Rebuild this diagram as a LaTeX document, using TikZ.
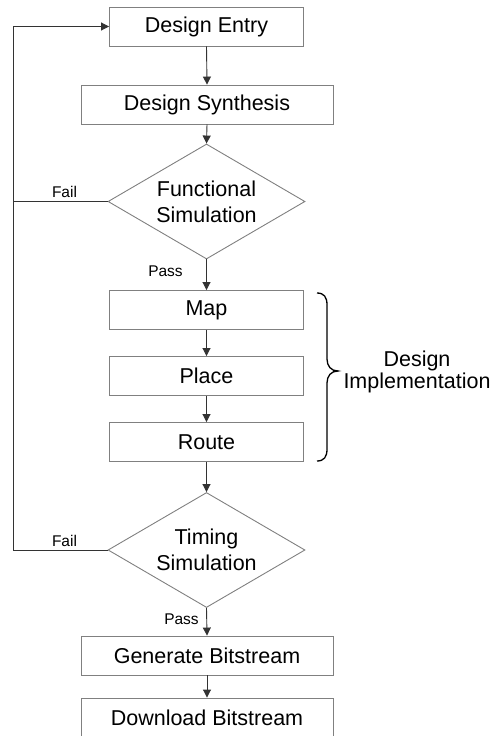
\documentclass[tikz,border=0pt]{standalone}
\usepackage{fontspec}
\setmainfont{Liberation Sans}
\usetikzlibrary{shapes.geometric,arrows.meta}
\begin{document}
\begin{tikzpicture}[x=1pt,y=-1pt,
  stepbox/.style={draw=black!50,line width=0.9pt,rectangle,minimum height=39pt,inner sep=0pt,
    font=\fontsize{21.5}{21.5}\selectfont},
  smallbox/.style={stepbox,minimum width=194pt},
  widebox/.style={stepbox,minimum width=252pt},
  decision/.style={draw=black!50,line width=0.9pt,diamond,aspect=1.71,minimum width=197pt,
    minimum height=115pt,inner sep=0pt,align=center,font=\fontsize{21.5}{26}\selectfont},
  flow/.style={draw=black!80,line width=0.9pt,-{Triangle[length=8pt,width=8pt]}},
  plainline/.style={draw=black!80,line width=0.9pt},
  tag/.style={font=\fontsize{15.5}{15.5}\selectfont,inner sep=0pt,anchor=base}]
\useasboundingbox (0,0) rectangle (495,736);

% process steps
\node[smallbox] (entry) at (206.5,26.5) {Design Entry};
\node[widebox]  (synth) at (207,104.5) {Design Synthesis};
\node[decision] (func)  at (206.5,201.5) {Functional\\Simulation};
\node[smallbox] (map)   at (206.5,310) {Map};
\node[smallbox] (place) at (206.5,376) {Place};
\node[smallbox] (route) at (206.5,442) {Route};
\node[decision] (timing) at (206.5,550) {Timing\\Simulation};
\node[widebox]  (gen)   at (207,655.5) {Generate Bitstream};
\node[widebox]  (down)  at (207,717.5) {Download Bitstream};

% forward flow
\draw[flow] (entry.south) -- (synth.north);
\draw[flow] (synth.south) -- (func.north);
\draw[flow] (func.south) -- (map.north);
\draw[flow] (map.south) -- (place.north);
\draw[flow] (place.south) -- (route.north);
\draw[flow] (route.south) -- (timing.north);
\draw[flow] (timing.south) -- (gen.north);
\draw[flow] (gen.south) -- (down.north);

% failure feedback rail
\coordinate (rail) at (13,0);
\draw[plainline] (func.west) -- (func.west -| rail);
\draw[flow] (timing.west) -- (timing.west -| rail) |- (entry.west);

% branch labels
\node[tag] (fail1) at (64.5,197) {Fail};
\node[tag] (pass1) at (165.5,276) {Pass};
\node[tag] (fail2) at (64.5,546) {Fail};
\node[tag] (pass2) at (181.5,624) {Pass};

% brace grouping the implementation steps
\draw[black,line width=1.3pt]
  (317,293) .. controls (324,293) and (327,297) .. (327,305)
  -- (327,359) .. controls (327,366) and (331,371) .. (338,371)
  .. controls (331,371) and (327,376) .. (327,383)
  -- (327,449) .. controls (327,457) and (324,461) .. (317,461);
\node[align=center,font=\fontsize{21.5}{21.5}\selectfont,inner sep=0pt] (impl) at (417,372)
  {Design\\Implementation};
\end{tikzpicture}
\end{document}
